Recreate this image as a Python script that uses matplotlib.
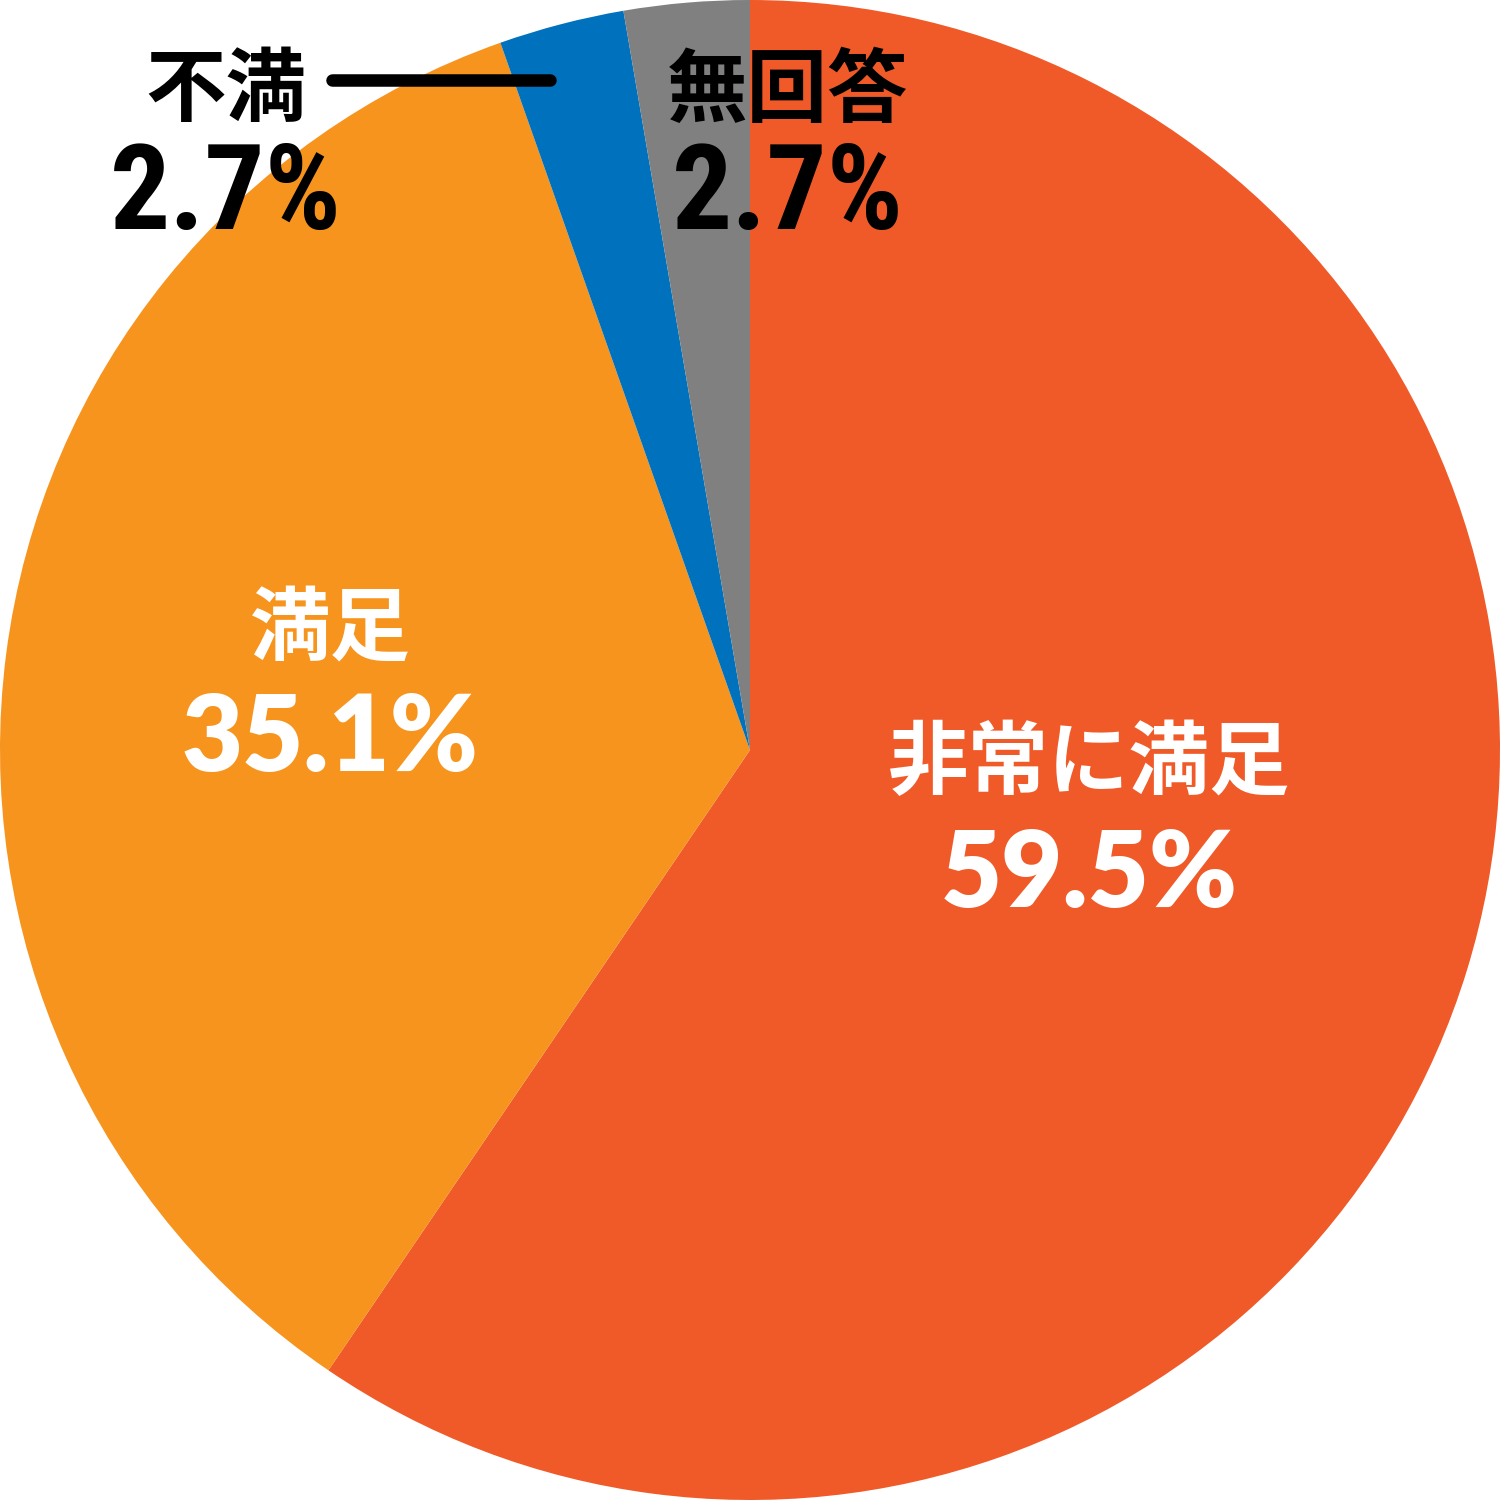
import matplotlib
matplotlib.use("Agg")
import matplotlib.pyplot as plt

# survey answers, clockwise from 12 o'clock
labels = ["非常に満足", "満足", "不満", "無回答"]
shares = [59.5, 35.1, 2.7, 2.7]

colors = ["#F05A28", "#F7941E", "#0071BC", "#808080"]
text_colors = ["white", "white", "black", "black"]

JP = ["Noto Sans CJK JP", "DejaVu Sans"]
NUM_WHITE = ["Lato", "DejaVu Sans"]
NUM_BLACK = ["Liberation Sans Narrow", "Roboto Condensed", "Liberation Sans", "DejaVu Sans"]

# label anchor positions in pixels of the 1500px canvas (x, y of label, y of number)
label_pos = [(1089, 765, 876), (330, 630, 740), (226, 92, 196), (788, 92, 196)]


def px(x, y):
    return (x - 750) / 750, (750 - y) / 750


fig = plt.figure(figsize=(15, 15), dpi=100)
ax = fig.add_axes([0, 0, 1, 1])
ax.pie(shares, colors=colors, startangle=90, counterclock=False,
       radius=1, wedgeprops={"linewidth": 0})
ax.set_xlim(-1, 1)
ax.set_ylim(-1, 1)
ax.set_aspect("equal")
ax.axis("off")

for i, (lab, val) in enumerate(zip(labels, shares)):
    x, ly, ny = label_pos[i]
    tc = text_colors[i]
    ax.text(*px(x, ly), lab, color=tc, family=JP, fontweight="bold",
            fontsize=58, ha="center", va="center")
    if tc == "white":
        ax.text(*px(x, ny), f"{val:.1f}%", color=tc, family=NUM_WHITE,
                fontweight="heavy", fontsize=76, ha="center", va="center")
    else:
        ax.text(*px(x, ny), f"{val:.1f}%", color=tc, family=NUM_BLACK,
                fontweight="bold", fontsize=86, ha="center", va="center")

# leader line for 不満
x0, y0 = px(332, 80)
x1, y1 = px(550, 80)
ax.plot([x0, x1], [y0, y1], color="black", linewidth=9,
        solid_capstyle="round")

fig.savefig("out.png", dpi=100)
